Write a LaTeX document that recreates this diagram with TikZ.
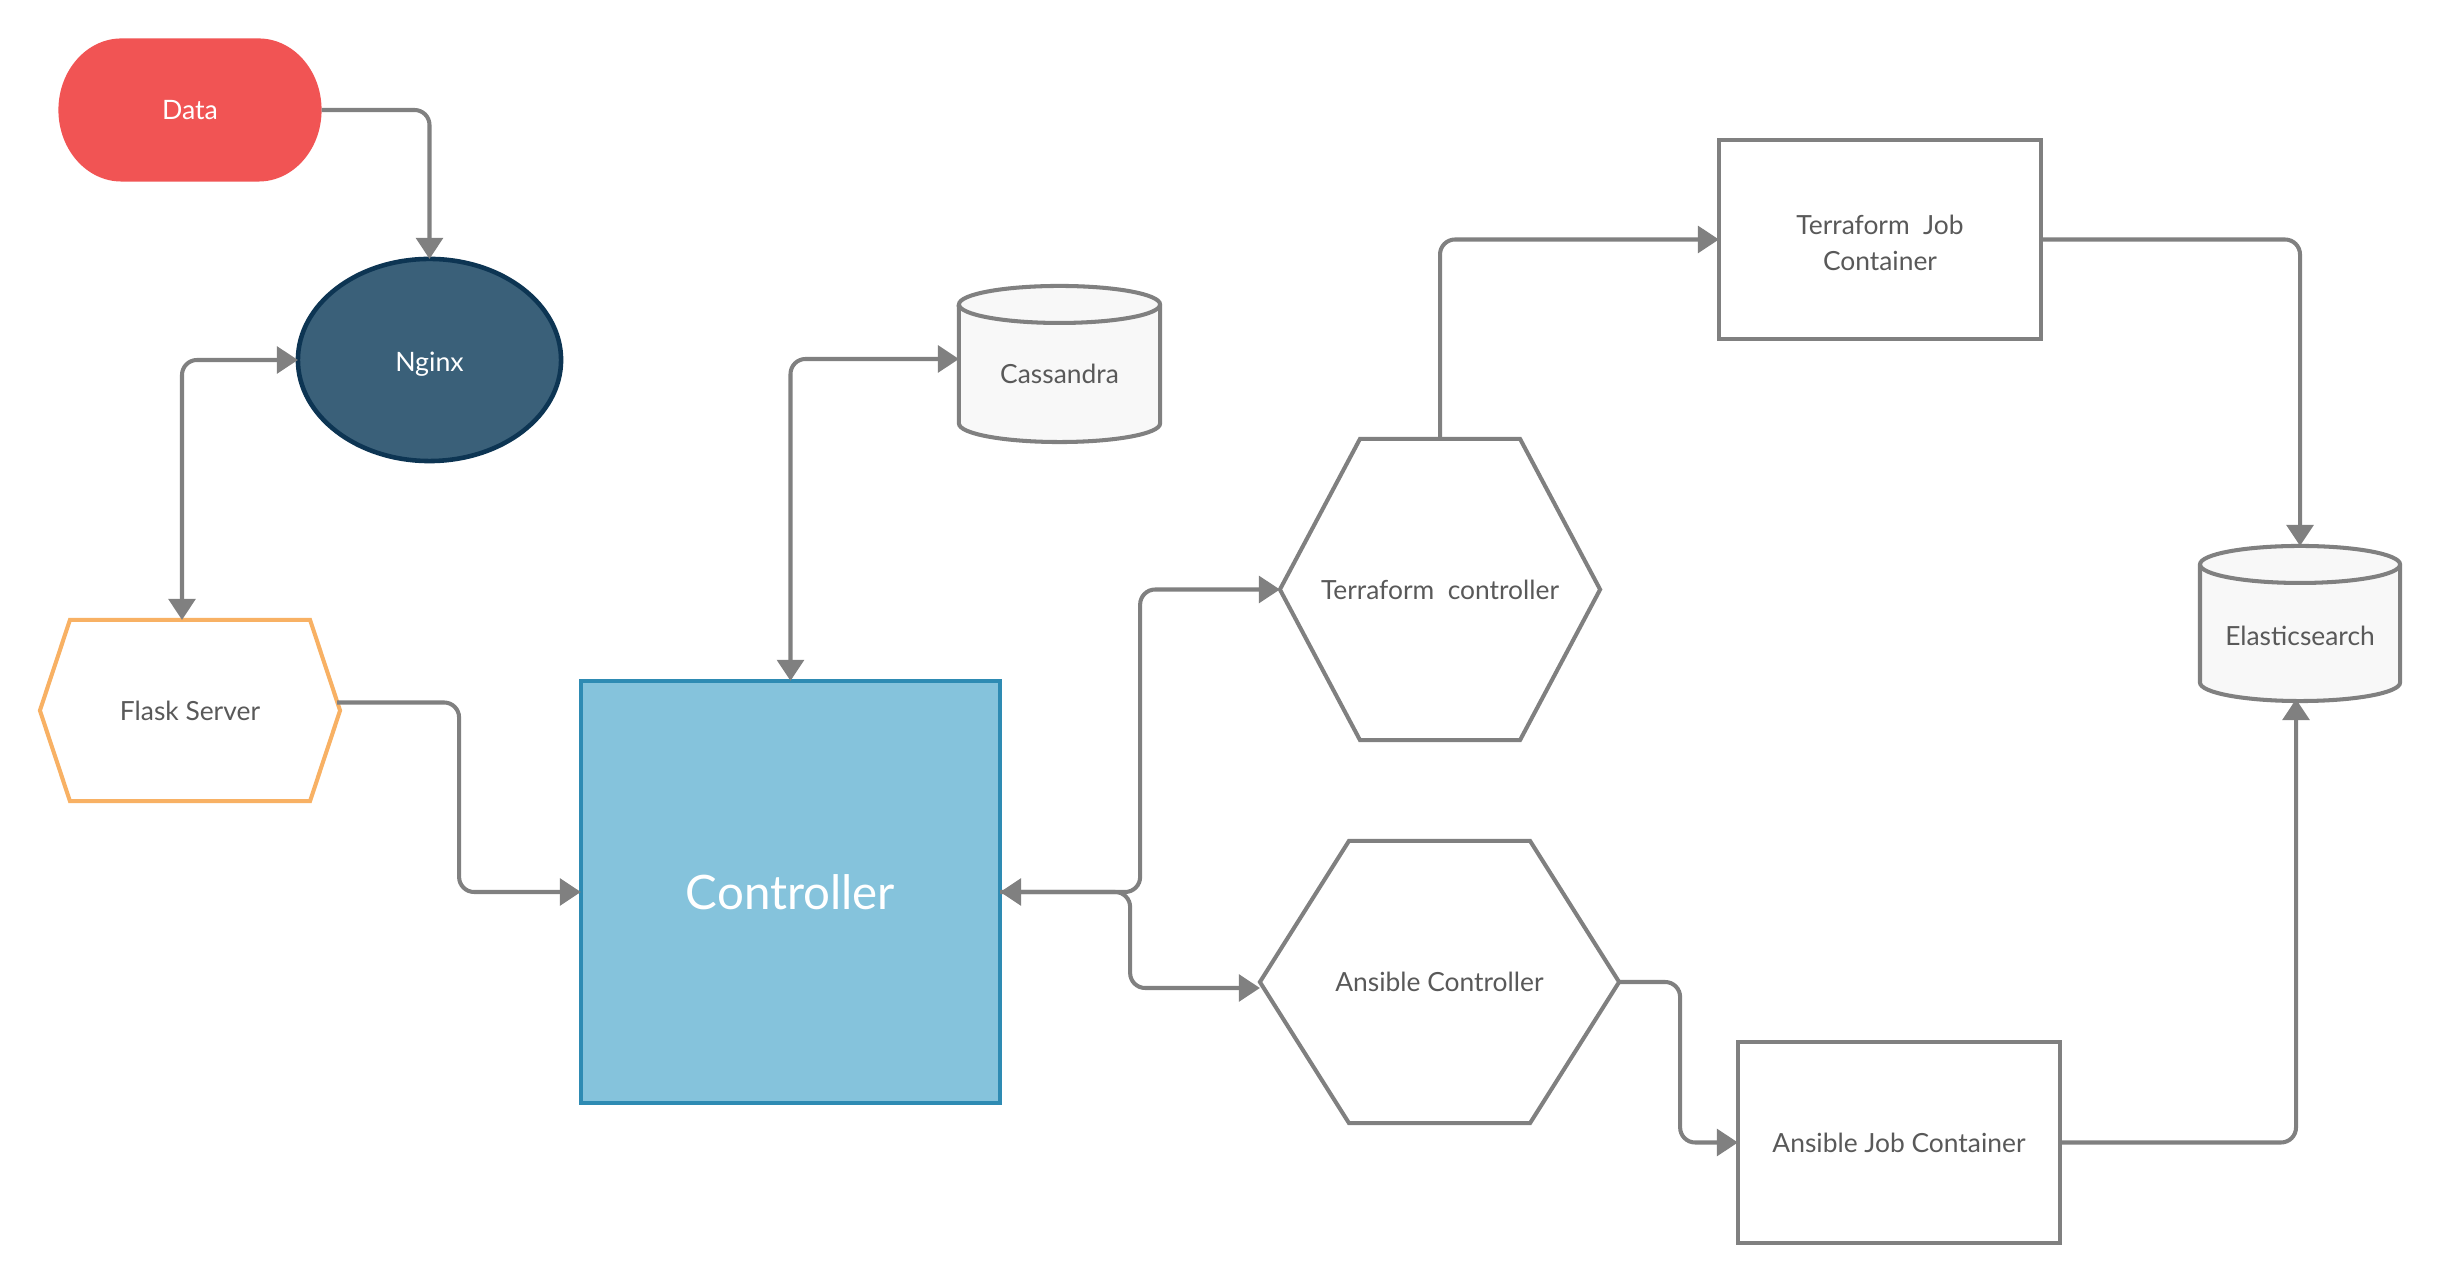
\documentclass[tikz,border=0pt]{standalone}
\usepackage{fontspec}
\setmainfont{Lato}
\usetikzlibrary{arrows.meta,shapes.geometric,backgrounds}
\definecolor{linegray}{HTML}{808080}
\definecolor{datared}{HTML}{F15454}
\definecolor{nginxfill}{HTML}{3A6079}
\definecolor{nginxborder}{HTML}{0D3553}
\definecolor{flaskorange}{HTML}{F8B164}
\definecolor{ctrlfill}{HTML}{85C3DC}
\definecolor{ctrlborder}{HTML}{2E8BB3}
\definecolor{cylfill}{HTML}{F8F8F8}
\definecolor{textgray}{HTML}{595959}
\newcommand{\drawhex}[3]{%
  \draw[#3] (#1.west) -- ([xshift=#2]#1.north west) -- ([xshift=-#2]#1.north east) -- (#1.east) -- ([xshift=-#2]#1.south east) -- ([xshift=#2]#1.south west) -- cycle;}
\newcommand{\drawcyl}[3]{%
  \draw[cylstyle] ([yshift=-#3]#1.north west) -- ([yshift=#3]#1.south west) arc[start angle=180,end angle=360,x radius=#2,y radius=#3] -- ([yshift=-#3]#1.north east) arc[start angle=0,end angle=180,x radius=#2,y radius=#3] -- cycle;
  \draw[cylstyle,fill=none] ([yshift=-#3]#1.north west) arc[start angle=180,end angle=360,x radius=#2,y radius=#3];}
\begin{document}
\begin{tikzpicture}[x=0.01cm,y=-0.01cm,
  tipstyle/.tip={Triangle[length=6pt,width=7.6pt]},
  conn/.style={draw=linegray,line width=1.15pt,rounded corners=0.15cm,-tipstyle},
  connboth/.style={draw=linegray,line width=1.15pt,rounded corners=0.15cm,tipstyle-tipstyle},
  lbl/.style={font=\fontsize{7.5pt}{10.2pt}\selectfont,text=textgray,align=center},
  wlbl/.style={font=\fontsize{7.6pt}{10.2pt}\selectfont,text=white,align=center},
  shapebox/.style={inner sep=0pt,outer sep=0pt},
  boxstyle/.style={draw=linegray,line width=1.15pt,fill=white},
  cylstyle/.style={draw=linegray,fill=cylfill,line width=1.15pt},
]
\path[use as bounding box] (0,0) rectangle (2440,1280);

% nodes
\node[shapebox,wlbl,minimum width=2.63cm,minimum height=1.43cm] (data) at (190,110) {Data};
\node[shapebox,ellipse,minimum width=2.63cm,minimum height=2.02cm,label={[wlbl,yshift=-0.04cm]center:Nginx}] (nginx) at (429.5,360) {};
\node[shapebox,lbl,minimum width=3.00cm,minimum height=1.81cm] (flask) at (190,710.5) {Flask Server};
\node[shapebox,minimum width=2.01cm,minimum height=1.56cm,label={[lbl,yshift=-0.10cm]center:Cassandra}] (cass) at (1059.5,364) {};
\node[shapebox,font=\fontsize{13.5pt}{16pt}\selectfont,text=white,minimum width=4.19cm,minimum height=4.22cm] (ctrl) at (790.5,892) {Controller};
\node[shapebox,lbl,minimum width=3.20cm,minimum height=3.01cm] (terra) at (1440,589.5) {Terraform\ \ controller};
\node[shapebox,lbl,minimum width=3.59cm,minimum height=2.82cm] (ans) at (1439.5,982) {Ansible Controller};
\node[shapebox,minimum width=3.22cm,minimum height=1.99cm,label={[lbl,yshift=-0.03cm]center:Terraform\ \ Job\\Container}] (tjc) at (1880,239.5) {};
\node[shapebox,minimum width=2.00cm,minimum height=1.55cm,label={[lbl,yshift=-0.12cm]center:Elasticsearch}] (elastic) at (2300,623.5) {};
\node[shapebox,lbl,minimum width=3.22cm,minimum height=2.01cm] (ajc) at (1899,1142.5) {Ansible Job Container};

% shapes
\begin{scope}[on background layer]
  \fill[white] (0,0) rectangle (2440,1280);
  \fill[datared] ([xshift=0.63cm]data.north west) -- ([xshift=-0.63cm]data.north east)
     arc[start angle=90,end angle=-90,x radius=0.63cm,y radius=0.715cm]
     -- ([xshift=0.63cm]data.south west)
     arc[start angle=270,end angle=90,x radius=0.63cm,y radius=0.715cm] -- cycle;
  \draw[fill=nginxfill,draw=nginxborder,line width=1.3pt] (nginx.center) ellipse[x radius=1.315cm,y radius=1.01cm];
  \drawhex{flask}{0.30cm}{draw=flaskorange,line width=1.15pt,fill=white}
  \drawcyl{cass}{1.005cm}{0.185cm}
  \draw[fill=ctrlfill,draw=ctrlborder,line width=1.15pt] (ctrl.north west) rectangle (ctrl.south east);
  \drawhex{terra}{0.80cm}{boxstyle}
  \drawhex{ans}{0.89cm}{boxstyle}
  \draw[boxstyle] (tjc.north west) rectangle (tjc.south east);
  \drawcyl{elastic}{1.00cm}{0.185cm}
  \draw[boxstyle] (ajc.north west) rectangle (ajc.south east);
\end{scope}

% connectors
\draw[conn] (data.east) -| (nginx.north);
\draw[connboth] ([xshift=-0.08cm]flask.north) |- (nginx.west);
\draw[conn] ([xshift=-0.03cm,yshift=0.08cm]flask.east) -- ++(122,0) |- (ctrl.west);
\draw[connboth] (ctrl.north) |- ([yshift=0.05cm]cass.west);
\draw[connboth] (ctrl.east) -- ++(140,0) |- (terra.west);
\draw[conn] (ctrl.east) -- ++(130,0) |- ([yshift=-0.06cm]ans.west);
\draw[conn] (terra.north) |- (tjc.west);
\draw[conn] (tjc.east) -| (elastic.north);
\draw[conn] (ans.east) -- ++(61,0) |- (ajc.west);
\draw[conn] (ajc.east) -| ([xshift=-0.04cm,yshift=0.02cm]elastic.south);
\end{tikzpicture}
\end{document}
